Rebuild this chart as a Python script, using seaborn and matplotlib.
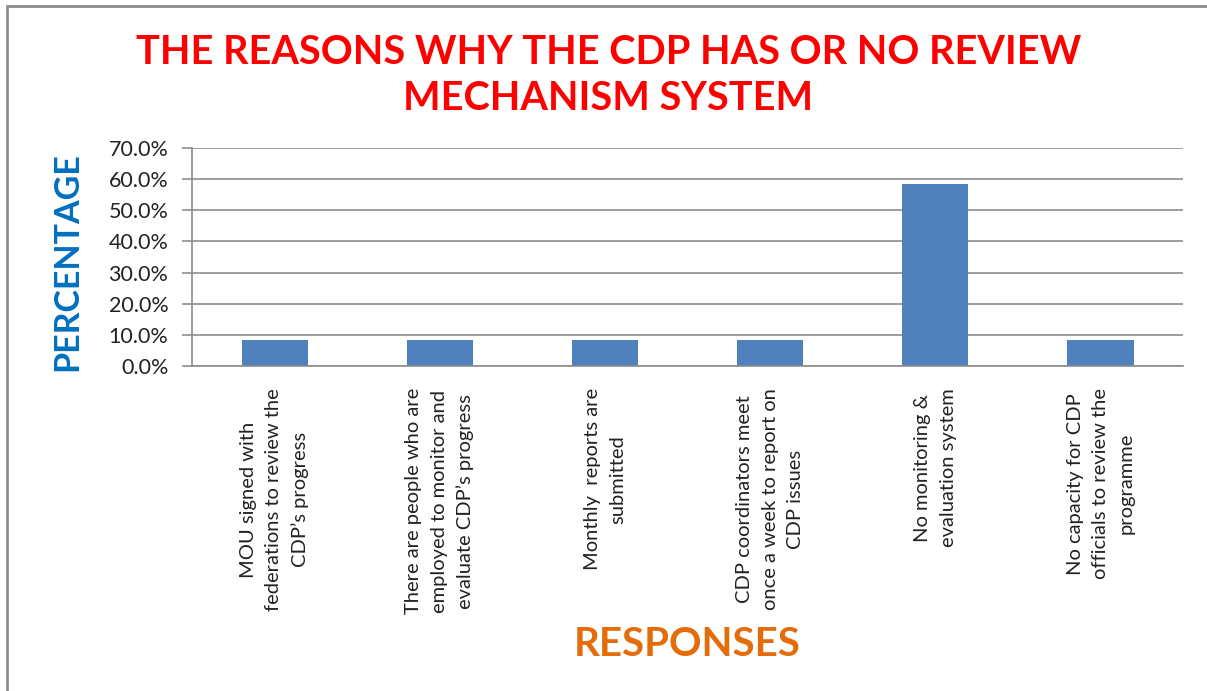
import pandas as pd
import matplotlib
matplotlib.use('Agg')
import matplotlib.pyplot as plt
import seaborn as sns
from matplotlib.ticker import PercentFormatter, MultipleLocator
from matplotlib.patches import Rectangle

# Data
responses = ["MOU signed with\nfederations to review the\nCDP\u2019s progress",
             "There are people who are\nemployed to monitor and\nevaluate CDP\u2019s progress",
             "Monthly  reports are\nsubmitted",
             "CDP coordinators meet\nonce a week to report on\nCDP issues",
             "No monitoring &\nevaluation system",
             "No capacity for CDP\nofficials to review the\nprogramme"]
percentages = [8.3, 8.3, 8.3, 8.3, 58.3, 8.3]

title = "THE REASONS WHY THE CDP HAS OR NO REVIEW\nMECHANISM SYSTEM"
y_title = "PERCENTAGE"
x_title = "RESPONSES"

sns.set_theme(style='white')
plt.rcParams['font.family'] = ['Lato', 'DejaVu Sans']

df = pd.DataFrame({'Response': responses, 'Percentage': percentages})

fig = plt.figure(figsize=(12.07, 6.91), dpi=100)
ax = fig.add_axes([0.1591, 0.4703, 0.8211, 0.3155])

sns.barplot(data=df, x='Response', y='Percentage', color='#4F81BD',
            saturation=1, width=0.4, ax=ax, linewidth=0)

grey = '#8C8C8C'
ax.set_ylim(0, 70)
ax.set_xlim(-0.5, len(responses) - 0.5)
ax.yaxis.set_major_locator(MultipleLocator(10))
ax.yaxis.set_major_formatter(PercentFormatter(decimals=1))
ax.grid(axis='y', color=grey, lw=1.2)
ax.set_axisbelow(True)
for s in ['top', 'right']:
    ax.spines[s].set_visible(False)
for s in ['left', 'bottom']:
    ax.spines[s].set_color(grey)
    ax.spines[s].set_linewidth(1.2)

ax.tick_params(axis='y', left=True, length=7, width=1.2, color=grey,
               direction='out', labelsize=15.5, pad=10, labelcolor='#222222')
ax.set_xticks(range(len(responses)))
ax.set_xticklabels(responses, rotation=90, ha='center', va='top',
                   multialignment='center', linespacing=1.6, fontsize=14.5,
                   color='#222222')
ax.tick_params(axis='x', bottom=False, pad=10)

ax.set_xlabel('')
ax.set_ylabel(y_title, color='#0070C0', fontweight='bold', fontsize=24.5)
ax.yaxis.set_label_coords(-0.11, 0.477)

fig.text(0.504, 1 - 75 / 691, title, ha='center', va='center',
         fontsize=28.5, fontweight='bold', color='#FF0000', linespacing=1.3)
fig.text(687 / 1207, 1 - 645 / 691, x_title, ha='center', va='center',
         fontsize=29, fontweight='bold', color='#E46C0A')

# chart area border (left and top visible)
fig.add_artist(Rectangle((7 / 1207, -0.5), 2, 0.5 + 1 - 6 / 691, fill=False,
                         edgecolor=grey, lw=2, transform=fig.transFigure))

fig.savefig('out.png', dpi=100)
